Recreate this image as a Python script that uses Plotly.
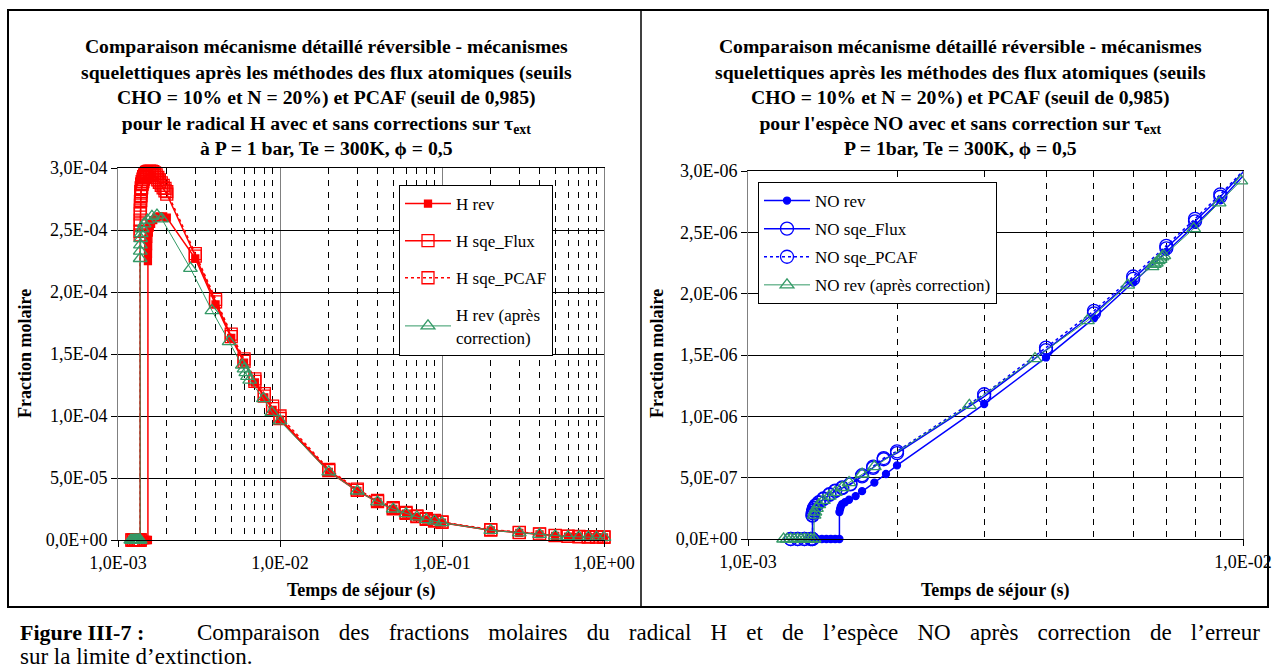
import plotly.graph_objects as go

W, H = 1275, 672
FONT = "Liberation Serif, Times New Roman, serif"
RED, BLUE, GREEN = "#FF0000", "#0000FF", "#339966"


def px(x):
    return x / W


def py(y):
    return 1 - y / H


# ---------------- left panel : radical H ----------------
h_rev_t = [1.44e-3, 1.47e-3, 1.50e-3, 1.53e-3, 1.53e-3, 1.532e-3, 1.535e-3, 1.54e-3, 1.55e-3,
           1.57e-3, 1.60e-3, 1.65e-3, 1.72e-3, 1.80e-3, 1.90e-3, 2.0e-3, 3e-3, 4e-3, 5e-3, 6e-3,
           7e-3, 8e-3, 9e-3, 1e-2, 2e-2, 3e-2, 4e-2, 5e-2, 6e-2, 7e-2, 8e-2, 9e-2, 1e-1,
           2e-1, 3e-1, 4e-1, 5e-1, 6e-1, 7e-1, 8e-1, 9e-1, 1.0]
h_rev = [0, 0, 0, 0, 2.25e-4, 2.31e-4, 2.37e-4, 2.43e-4, 2.48e-4,
         2.52e-4, 2.55e-4, 2.58e-4, 2.60e-4, 2.61e-4, 2.61e-4, 2.60e-4, 2.27e-4, 1.90e-4, 1.63e-4, 1.43e-4,
         1.27e-4, 1.15e-4, 1.05e-4, 9.7e-5, 5.5e-5, 3.95e-5, 3.07e-5, 2.5e-5, 2.13e-5, 1.86e-5, 1.65e-5, 1.52e-5, 1.40e-5,
         7.8e-6, 5.8e-6, 4.6e-6, 3.4e-6, 2.8e-6, 2.5e-6, 2.3e-6, 2.2e-6, 2.1e-6]

h_flux_t = [1.22e-3, 1.25e-3, 1.28e-3, 1.31e-3, 1.34e-3, 1.37e-3, 1.37e-3, 1.371e-3, 1.373e-3, 1.376e-3,
            1.38e-3, 1.385e-3, 1.39e-3, 1.40e-3, 1.41e-3, 1.425e-3, 1.44e-3, 1.46e-3, 1.48e-3, 1.50e-3,
            1.53e-3, 1.56e-3, 1.60e-3, 1.64e-3, 1.68e-3, 1.72e-3, 1.76e-3, 1.80e-3, 1.85e-3, 1.90e-3,
            1.95e-3, 2.0e-3, 3e-3, 4e-3, 5e-3, 6e-3, 7e-3, 8e-3, 9e-3, 1e-2, 2e-2, 3e-2, 4e-2, 5e-2,
            6e-2, 7e-2, 8e-2, 9e-2, 1e-1, 2e-1, 3e-1, 4e-1, 5e-1, 6e-1, 7e-1, 8e-1, 9e-1, 1.0]
h_flux = [0, 0, 0, 0, 0, 0, 2.46e-4, 2.55e-4, 2.63e-4, 2.70e-4,
          2.74e-4, 2.78e-4, 2.81e-4, 2.84e-4, 2.87e-4, 2.89e-4, 2.91e-4, 2.925e-4, 2.935e-4, 2.945e-4,
          2.95e-4, 2.955e-4, 2.955e-4, 2.95e-4, 2.94e-4, 2.925e-4, 2.905e-4, 2.885e-4, 2.86e-4, 2.84e-4,
          2.815e-4, 2.79e-4, 2.29e-4, 1.92e-4, 1.64e-4, 1.44e-4, 1.28e-4, 1.16e-4, 1.06e-4, 9.8e-5, 5.6e-5, 4.0e-5, 3.1e-5, 2.52e-5,
          2.15e-5, 1.88e-5, 1.67e-5, 1.53e-5, 1.42e-5, 7.9e-6, 5.9e-6, 4.7e-6, 3.5e-6, 2.9e-6, 2.6e-6, 2.4e-6, 2.3e-6, 2.2e-6]

h_pcaf_t = [1.22e-3, 1.25e-3, 1.28e-3, 1.31e-3, 1.34e-3, 1.37e-3, 1.37e-3, 1.371e-3, 1.373e-3, 1.376e-3,
            1.38e-3, 1.385e-3, 1.39e-3, 1.40e-3, 1.41e-3, 1.425e-3, 1.44e-3, 1.46e-3, 1.48e-3, 1.50e-3,
            1.53e-3, 1.56e-3, 1.60e-3, 1.64e-3, 1.68e-3, 1.72e-3, 1.76e-3, 1.80e-3, 1.85e-3, 1.90e-3,
            1.95e-3, 2.0e-3, 3e-3, 4e-3, 5e-3, 6e-3, 7e-3, 8e-3, 9e-3, 1e-2, 2e-2, 3e-2, 4e-2, 5e-2,
            6e-2, 7e-2, 8e-2, 9e-2, 1e-1, 2e-1, 3e-1, 4e-1, 5e-1, 6e-1, 7e-1, 8e-1, 9e-1, 1.0]
h_pcaf = [0, 0, 0, 0, 0, 0, 2.49e-4, 2.58e-4, 2.66e-4, 2.73e-4,
          2.77e-4, 2.81e-4, 2.84e-4, 2.87e-4, 2.89e-4, 2.91e-4, 2.93e-4, 2.945e-4, 2.955e-4, 2.965e-4,
          2.97e-4, 2.975e-4, 2.975e-4, 2.97e-4, 2.96e-4, 2.945e-4, 2.925e-4, 2.905e-4, 2.88e-4, 2.86e-4,
          2.835e-4, 2.81e-4, 2.31e-4, 1.94e-4, 1.66e-4, 1.46e-4, 1.30e-4, 1.18e-4, 1.08e-4, 1.0e-4, 5.7e-5, 4.1e-5, 3.2e-5, 2.6e-5,
          2.22e-5, 1.94e-5, 1.72e-5, 1.58e-5, 1.46e-5, 8.3e-6, 6.2e-6, 5.0e-6, 3.8e-6, 3.2e-6, 2.9e-6, 2.7e-6, 2.6e-6, 2.5e-6]

h_cor_t = [1.20e-3, 1.22e-3, 1.24e-3, 1.26e-3, 1.28e-3, 1.30e-3, 1.32e-3, 1.34e-3, 1.36e-3, 1.37e-3,
           1.37e-3, 1.372e-3, 1.375e-3, 1.38e-3, 1.39e-3, 1.41e-3, 1.45e-3, 1.52e-3, 1.62e-3, 1.74e-3,
           1.86e-3, 2.8e-3, 3.8e-3, 4.85e-3, 5.85e-3, 6.0e-3, 6.15e-3, 6.3e-3, 6.5e-3, 7.9e-3,
           8.9e-3, 1e-2, 2e-2, 3e-2, 4e-2, 5e-2, 6e-2, 7e-2, 8e-2, 9e-2, 1e-1,
           2e-1, 3e-1, 4e-1, 5e-1, 6e-1, 7e-1, 8e-1, 9e-1, 1.0]
h_cor = [0, 0, 0, 0, 0, 0, 0, 0, 0, 0,
         2.27e-4, 2.33e-4, 2.38e-4, 2.43e-4, 2.47e-4, 2.51e-4, 2.55e-4, 2.58e-4, 2.61e-4, 2.62e-4,
         2.59e-4, 2.19e-4, 1.85e-4, 1.60e-4, 1.41e-4, 1.38e-4, 1.35e-4, 1.32e-4, 1.29e-4, 1.14e-4,
         1.03e-4, 9.6e-5, 5.5e-5, 3.95e-5, 3.07e-5, 2.5e-5, 2.13e-5, 1.86e-5, 1.65e-5, 1.52e-5, 1.40e-5,
         7.8e-6, 5.8e-6, 4.6e-6, 3.4e-6, 2.8e-6, 2.5e-6, 2.3e-6, 2.2e-6, 2.1e-6]

# ---------------- right panel : NO ----------------
no_rev_t = [1.35e-3, 1.38e-3, 1.41e-3, 1.44e-3, 1.47e-3, 1.50e-3, 1.53e-3, 1.53e-3, 1.535e-3, 1.54e-3,
            1.55e-3, 1.57e-3, 1.60e-3, 1.65e-3, 1.70e-3, 1.80e-3, 1.90e-3, 2.0e-3, 3e-3, 4e-3, 5e-3,
            6e-3, 7e-3, 8e-3, 9e-3, 1e-2]
no_rev = [0, 0, 0, 0, 0, 0, 0, 2.2e-7, 2.45e-7, 2.65e-7,
          2.85e-7, 3.0e-7, 3.2e-7, 3.5e-7, 3.9e-7, 4.6e-7, 5.3e-7, 6.0e-7, 1.10e-6, 1.48e-6, 1.80e-6,
          2.09e-6, 2.34e-6, 2.56e-6, 2.76e-6, 2.96e-6]

no_flux_t = [1.22e-3, 1.26e-3, 1.30e-3, 1.34e-3, 1.35e-3, 1.35e-3, 1.352e-3, 1.355e-3, 1.36e-3, 1.37e-3,
             1.39e-3, 1.42e-3, 1.46e-3, 1.50e-3, 1.55e-3, 1.61e-3, 1.70e-3, 1.79e-3, 1.88e-3, 2.0e-3,
             3e-3, 4e-3, 5e-3, 6e-3, 7e-3, 8e-3, 9e-3, 1e-2]
no_flux = [0, 0, 0, 0, 0, 1.9e-7, 2.1e-7, 2.3e-7, 2.5e-7, 2.7e-7,
           2.95e-7, 3.25e-7, 3.6e-7, 3.9e-7, 4.15e-7, 4.45e-7, 5.1e-7, 5.8e-7, 6.5e-7, 7.0e-7,
           1.16e-6, 1.54e-6, 1.84e-6, 2.12e-6, 2.37e-6, 2.59e-6, 2.79e-6, 2.99e-6]

no_pcaf_t = [1.22e-3, 1.26e-3, 1.30e-3, 1.34e-3, 1.35e-3, 1.35e-3, 1.352e-3, 1.355e-3, 1.36e-3, 1.37e-3,
             1.39e-3, 1.42e-3, 1.46e-3, 1.50e-3, 1.55e-3, 1.61e-3, 1.70e-3, 1.79e-3, 1.88e-3, 2.0e-3,
             3e-3, 4e-3, 5e-3, 6e-3, 7e-3, 8e-3, 9e-3, 1e-2]
no_pcaf = [0, 0, 0, 0, 0, 1.95e-7, 2.15e-7, 2.35e-7, 2.55e-7, 2.75e-7,
           3.0e-7, 3.3e-7, 3.65e-7, 3.95e-7, 4.2e-7, 4.5e-7, 5.2e-7, 5.9e-7, 6.6e-7, 7.15e-7,
           1.18e-6, 1.56e-6, 1.86e-6, 2.14e-6, 2.39e-6, 2.61e-6, 2.81e-6, 3.0e-6]

no_cor_t = [1.18e-3, 1.20e-3, 1.22e-3, 1.24e-3, 1.26e-3, 1.28e-3, 1.30e-3, 1.32e-3, 1.34e-3, 1.36e-3,
            1.36e-3, 1.365e-3, 1.375e-3, 1.39e-3, 1.42e-3, 1.46e-3, 1.50e-3, 1.55e-3, 1.60e-3, 1.70e-3,
            1.80e-3, 2.8e-3, 3.8e-3, 4.85e-3, 5.85e-3, 6.55e-3, 6.62e-3, 6.68e-3, 6.74e-3, 6.80e-3,
            6.86e-3, 6.92e-3, 7.95e-3, 8.95e-3, 9.9e-3]
no_cor = [0, 0, 0, 0, 0, 0, 0, 0, 0, 0,
          1.95e-7, 2.2e-7, 2.5e-7, 2.8e-7, 3.15e-7, 3.5e-7, 3.8e-7, 4.2e-7, 4.6e-7, 5.3e-7,
          5.9e-7, 1.09e-6, 1.47e-6, 1.78e-6, 2.07e-6, 2.22e-6, 2.24e-6, 2.25e-6, 2.27e-6, 2.28e-6,
          2.30e-6, 2.31e-6, 2.53e-6, 2.74e-6, 2.92e-6]

# tick labels
h_yticks = [0, 5e-5, 1e-4, 1.5e-4, 2e-4, 2.5e-4, 3e-4]
h_ylabels = ["0,0E+00", "5,0E-05", "1,0E-04", "1,5E-04", "2,0E-04", "2,5E-04", "3,0E-04"]
h_xticks = [1e-3, 1e-2, 1e-1, 1.0]
h_xlabels = ["1,0E-03", "1,0E-02", "1,0E-01", "1,0E+00"]
no_yticks = [0, 5e-7, 1e-6, 1.5e-6, 2e-6, 2.5e-6, 3e-6]
no_ylabels = ["0,0E+00", "5,0E-07", "1,0E-06", "1,5E-06", "2,0E-06", "2,5E-06", "3,0E-06"]
no_xticks = [1e-3, 1e-2]
no_xlabels = ["1,0E-03", "1,0E-02"]

fig = go.Figure()


def add(x, y, name, color, symbol, size, dash, width, xa, ya, legend):
    fig.add_trace(go.Scatter(
        x=x, y=y, name=name, mode="lines+markers", xaxis=xa, yaxis=ya, legend=legend,
        legendgroup=name, cliponaxis=False,
        line=dict(color=color, width=width, dash=dash),
        marker=dict(symbol=symbol, size=size, color=color, line=dict(color=color, width=1.3)),
    ))


add(h_rev_t, h_rev, "H rev", RED, "square", 7, "solid", 1.5, "x", "y", "legend")
add(h_flux_t, h_flux, "H sqe_Flux", RED, "square-open", 12, "solid", 1.5, "x", "y", "legend")
add(h_pcaf_t, h_pcaf, "H sqe_PCAF", RED, "square-open", 12, "dot", 1.5, "x", "y", "legend")
add(h_cor_t, h_cor, "H rev (après<br>correction)", GREEN, "triangle-up-open", 12, "solid", 1, "x", "y", "legend")

add(no_rev_t, no_rev, "NO rev", BLUE, "circle", 7, "solid", 1.5, "x2", "y2", "legend2")
add(no_flux_t, no_flux, "NO sqe_Flux", BLUE, "circle-open", 13, "solid", 1.5, "x2", "y2", "legend2")
add(no_pcaf_t, no_pcaf, "NO sqe_PCAF", BLUE, "circle-open", 13, "dot", 1.5, "x2", "y2", "legend2")
add(no_cor_t, no_cor, "NO rev (après correction)", GREEN, "triangle-up-open", 12, "solid", 1, "x2", "y2", "legend2")


def xaxis(dom, rng, vals, labels, anchor):
    return dict(type="log", range=rng, domain=dom, anchor=anchor, automargin=False,
                tickmode="array", tickvals=vals, ticktext=labels,
                ticks="outside", ticklen=6, tickcolor="black",
                tickfont=dict(family=FONT, size=18, color="black"),
                showgrid=True, gridcolor="#808080", gridwidth=1,
                minor=dict(dtick="D1", showgrid=True, gridcolor="black", gridwidth=1, griddash="6px,6px"),
                showline=True, linecolor="black", linewidth=1, mirror=True, zeroline=False)


def yaxis(dom, rng, vals, labels, anchor):
    return dict(range=rng, domain=dom, anchor=anchor, automargin=False,
                tickmode="array", tickvals=vals, ticktext=labels,
                ticks="outside", ticklen=6, tickcolor="black",
                tickfont=dict(family=FONT, size=18, color="black"),
                showgrid=True, gridcolor="black", gridwidth=1,
                showline=True, linecolor="#808080", linewidth=1, mirror=True, zeroline=False)


fig.update_layout(
    width=W, height=H, margin=dict(l=0, r=0, t=0, b=0, autoexpand=False),
    paper_bgcolor="white", plot_bgcolor="white",
    font=dict(family=FONT, color="black"),
    xaxis=xaxis([px(118), px(604)], [-3, 0], h_xticks, h_xlabels, "y"),
    yaxis=yaxis([py(540), py(168)], [0, 3e-4], h_yticks, h_ylabels, "x"),
    xaxis2=xaxis([px(748), px(1243)], [-3, -2], no_xticks, no_xlabels, "y2"),
    yaxis2=yaxis([py(539), py(171)], [0, 3e-6], no_yticks, no_ylabels, "x2"),
    legend=dict(x=px(399), y=py(185), xanchor="left", yanchor="top",
                bgcolor="white", bordercolor="black", borderwidth=1,
                font=dict(family=FONT, size=17), tracegroupgap=12, itemwidth=46,
                traceorder="grouped"),
    legend2=dict(x=px(758), y=py(182), xanchor="left", yanchor="top",
                 bgcolor="white", bordercolor="black", borderwidth=1,
                 font=dict(family=FONT, size=17), tracegroupgap=3, itemwidth=46,
                 traceorder="grouped"),
)

title_common = ("<b>Comparaison mécanisme détaillé réversible - mécanismes<br>"
                "squelettiques après les méthodes des flux atomiques (seuils<br>"
                "CHO = 10% et N = 20%) et PCAF (seuil de 0,985)<br>")
titles = [
    (326, title_common + "pour le radical H avec et sans corrections sur τ<sub>ext</sub><br>"
     "à P = 1 bar, Te = 300K, ϕ = 0,5</b>"),
    (960, title_common + "pour l'espèce NO avec et sans correction sur τ<sub>ext</sub><br>"
     "P = 1bar, Te = 300K, ϕ = 0,5</b>"),
]
for cx, txt in titles:
    fig.add_annotation(text=txt, x=px(cx), y=py(97), xref="paper", yref="paper",
                       xanchor="center", yanchor="middle", showarrow=False,
                       font=dict(family=FONT, size=19.7, color="black"))

for cx in (25, 657):
    fig.add_annotation(text="<b>Fraction molaire</b>", x=px(cx), y=py(354), xref="paper", yref="paper",
                       xanchor="center", yanchor="middle", textangle=-90, showarrow=False,
                       font=dict(family=FONT, size=18, color="black"))
for cx in (361, 995):
    fig.add_annotation(text="<b>Temps de séjour (s)</b>", x=px(cx), y=py(590), xref="paper", yref="paper",
                       xanchor="center", yanchor="middle", showarrow=False,
                       font=dict(family=FONT, size=18, color="black"))

# caption (first line is justified in the source, hence the wider word gaps)
gap = " \u00a0\u00a0\u200a"
caption_1 = gap.join("Comparaison des fractions molaires du radical H et de l’espèce NO après correction de l’erreur".split(" "))
fig.add_annotation(text="<b>Figure III-7 :</b>", x=px(18), y=py(632), xref="paper", yref="paper",
                   xanchor="left", yanchor="middle", showarrow=False,
                   font=dict(family=FONT, size=22, color="black"))
fig.add_annotation(text=caption_1, x=px(1262), y=py(632), xref="paper", yref="paper",
                   xanchor="right", yanchor="middle", showarrow=False,
                   font=dict(family=FONT, size=23, color="black"))
fig.add_annotation(text="sur la limite d’extinction.", x=px(18), y=py(656), xref="paper", yref="paper",
                   xanchor="left", yanchor="middle", showarrow=False,
                   font=dict(family=FONT, size=23, color="black"))

# table frame around the two charts
fig.add_shape(type="rect", xref="paper", yref="paper", x0=px(8), x1=px(1268), y0=py(607), y1=py(10),
              line=dict(color="black", width=2))
fig.add_shape(type="line", xref="paper", yref="paper", x0=px(641), x1=px(641), y0=py(607), y1=py(10),
              line=dict(color="black", width=1.5))

# drop the default 8px page margin so the 1275x672 figure fills the window exactly
fig.write_html("out.html", config={"displayModeBar": False},
               post_script="document.body.style.margin='0';document.body.style.overflow='hidden';")
